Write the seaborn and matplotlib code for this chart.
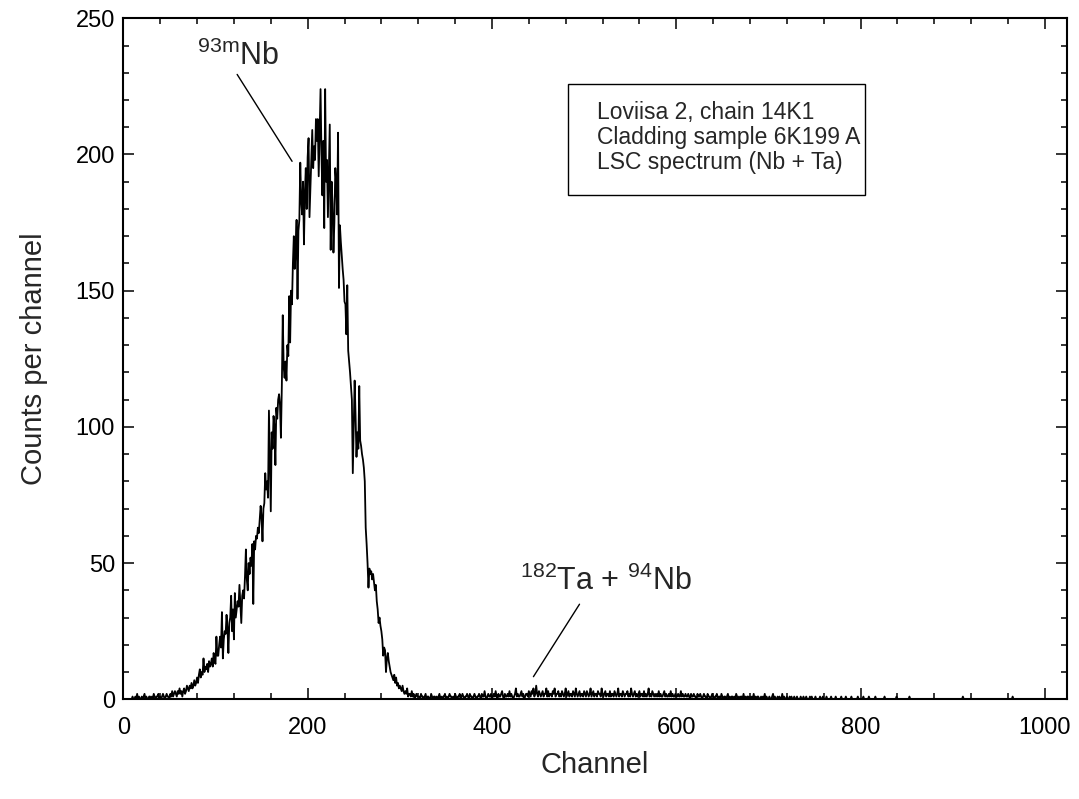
import numpy as np
import pandas as pd
import matplotlib
matplotlib.use("Agg")
import matplotlib.pyplot as plt
from matplotlib.patches import Rectangle
from matplotlib.ticker import MultipleLocator
import seaborn as sns

# ---- data: counts per channel (start channel in name) ----
counts_ch009 = [0,1,0,0,1,0,2,0,1,0,0,1,0,1,2,0,1,0,0,1,1,0]
counts_ch031 = [1,0,2,1,0,1,1,2,0,1,0,1,2,1,0,1,2,1,1,0,
                2,1,3,1,2,3,2,1,3,2,4,2,3,1,3,4,2,3,5,4,
                3,5,4,6,4,5,7,5,6,8,6,9,11,8,10,9,15,10,12,11,
                13,10,14,12,13,15,12,17,14,13,23,16,16,20,23,19,32,15,22,25,
                24,31,26,17,28,30,38,25,33,22,39,30,33,36,34,42,35,28,38,40,
                37,45,55,44,40,50,46,52,49,57,35,58,55,60,59,63,61,66,71,67]
counts_ch151 = [58,70,72,83,77,80,74,106,88,69,98,92,104,100,86,107,103,110,112,108,
                96,115,141,122,118,124,117,130,126,148,131,150,145,160,170,158,165,176,147,172,
                176,197,183,178,190,167,186,195,180,199,206,177,188,200,209,195,203,198,213,205,
                213,192,208,224,200,185,205,173,224,190,198,177,195,211,165,190,182,164,175,195,
                190,178,208,151,174,168,163,158,154,146,145,134,152,128,124,120,115,110,83,100,
                117,104,89,98,92,115,95,93,90,88,85,80,63,57,50,41,48,46,47,44,
                46,43,40,42,36,33,28,30,27,25,22,16,19,18,10,15,17,14,12,10,
                9,8,7,9,6,8,5,6,4,5,4,3,5,3,2,3,2,4,1,2,
                2,1,3,1,2,0,1,2,1,1]
counts_ch321 = [1,0,2,1,1,0,1,2,0,1,1,0,0,2,1,0,1,1,0,1,
                0,1,2,0,1,0,1,1,2,0,1,0,1,2,1,1,0,1,0,2,
                1,0,1,1,2,0,1,2,1,0,1,1,2,1,0,2,1,1,0,1,
                2,1,0,1,1,2,1,0,2,1,1,3,1,0,1,2,1,1,2,0,
                1,2,1,3,1,0,2,1,1,2,3,1,0,2,1,1,2,1,3,1,
                2,1,0,1,2,4,1,2,1,1,2,3,1,2,0,1,2,2,1,3,
                2,1,3,2,4,1,2,5,2,1,3,2,1,2,3,1,2,2,4,1,
                3,1,2,2,1,3,2,4,1,2,2,3,1,2,1,3,2,1,2,4,
                1,2,3,1,2,2,1,3,2,1,4,2,1,2,3,1,2,2,1,3,
                2,1,3,2,1,2,4,1,2,3,1,2,2,1,3,2,2,1,4,2,
                1,2,3,1,2,2,1,3,1,2,2,1,3,2,1,2,4,1,2,2,
                1,3,2,1,2,2,3,1,2,1,4,2,1,2,3,1,2,1,2,3,
                1,2,2,1,3,1,2,1,2,4,1,2,1,3,2,1,2,1,2,1,
                3,1,2,1,1,2,3,1,2,1,1,2,1,3,1,2,1,1,2,1,
                1,2,1,1,3,1,2,1,1,2,1,1,2,1,0,2,1,1,2,1,
                1,0,2,1,1,2,1,0,1,2,1,1,0,2,1,1,0,1,2,1,
                0,1,1,2,0,1,1,0,2,1,0,1,1,0,1,2,0,1,0,1]
counts_ch661 = [1,0,1,0,2,1,0,1,0,1,1,0,2,0,1,0,1,1,0,1,
                0,1,0,2,0,1,0,1,1,0,0,1,0,1,0,2,0,1,0,0,
                1,0,0,1,2,0,1,0,0,1,0,1,0,0,2,0,1,0,0,1,
                0,0,1,0,1,0,0,1,0,0,1,0,0,0,1,0,0,1,0,0,
                1,0,0,0,1,0,1,0,0,0,1,0,0,0,0,1,0,0,1,0,
                0,0,1,0,0,0,0,1,0,0,0,0,1,0,0,0,0,0,1,0,
                0,0,0,1,0,0,0,0,0,1,0,0,0,0,0,0,1,0,0,0,
                0,0,1,0,0,0,0,0,1,0,0,0,0,0,0,1,0,0,0,0,
                0,0,0,0,0,1,0,0,0,0,0,0,0,0,0,0,0,0,1,0,
                0,0,0,0,0,0,0,0,0,0,0,0,1,0,0,0,0,0,0,0,
                0,0,0,0,0,0,0,0,0,0,0,0,0,0,0,0,0,0,0,0,
                0,0,0,0,0,0,0,0,0,0,0,0,0,0,0,0,0,0,0,0,
                0,0,0,0,0,0,0,0,0,0,1,0,0,0,0,0,0,0,0,0,
                0,0,0,0,0,0,0,0,0,0,0,0,0,0,0,0,0,0,0,0,
                0,0,0,0,0,0,0,0,0,0,0,0,0,0,0,0,0,0,0,0,
                0,0,0,0,1,0,0,0,0,0,0,0,0,0,0,0,0,0,0,0,
                0,0,0,0,0,0,0,0,0,0,0,0,0,0,0,0,0,0,0,0,
                0,0,0,0,0,0,0,0,0,0,0,0,0,0,0,0,0,0,0,0,
                0,0,0]

segments = [(9, counts_ch009), (31, counts_ch031), (151, counts_ch151),
            (321, counts_ch321), (661, counts_ch661)]

box_lines = ["Loviisa 2, chain 14K1", "Cladding sample 6K199 A", "LSC spectrum (Nb + Ta)"]
x_ticks = [0, 200, 400, 600, 800, 1000]
y_ticks = [0, 50, 100, 150, 200, 250]

# ---- build frame ----
frames = []
for start, seg in segments:
    frames.append(pd.DataFrame({"Channel": np.arange(start, start + len(seg)), "Counts": seg}))
df = pd.concat(frames, ignore_index=True)

# ---- style ----
sns.set_theme(style="ticks")
plt.rcParams["font.family"] = ["Liberation Sans", "DejaVu Sans"]
plt.rcParams["mathtext.fontset"] = "custom"
plt.rcParams["mathtext.rm"] = "Liberation Sans"
plt.rcParams["mathtext.it"] = "Liberation Sans"
plt.rcParams["mathtext.default"] = "regular"

fig = plt.figure(figsize=(10.79, 7.99), dpi=100)
ax = fig.add_axes([0.1143, 0.1248, 0.8746, 0.8523])

sns.lineplot(data=df, x="Channel", y="Counts", ax=ax, color="black",
             linewidth=1.3, estimator=None, legend=False)

ax.set_xlim(0, 1024)
ax.set_ylim(0, 250)
ax.set_xticks(x_ticks)
ax.set_yticks(y_ticks)
ax.xaxis.set_minor_locator(MultipleLocator(40))
ax.yaxis.set_minor_locator(MultipleLocator(10))
ax.tick_params(which="both", direction="in", top=True, right=True, colors="black")
ax.tick_params(which="major", length=8, width=1.1, labelsize=17)
ax.tick_params(which="minor", length=4.5, width=1.1)
ax.tick_params(axis="x", which="major", pad=13)
ax.tick_params(axis="y", which="major", pad=6)
for s in ax.spines.values():
    s.set_linewidth(1.5)
    s.set_color("black")
    s.set_visible(True)

ax.set_xlabel("Channel", fontsize=21)
ax.set_ylabel("Counts per channel", fontsize=21)
ax.xaxis.set_label_coords(0.5, -0.076)
ax.yaxis.set_label_coords(-0.080, 0.5)

# annotations
ax.text(79.5, 233, r"$^{93m}$Nb", fontsize=22, ha="left", va="baseline")
ax.plot([123.5, 183.1], [229.4, 197.5], color="black", linewidth=1.0)
ax.text(430, 40, r"$^{182}$Ta + $^{94}$Nb", fontsize=22, ha="left", va="baseline")
ax.plot([495, 445], [34.9, 8.3], color="black", linewidth=1.0)

# info box
ax.add_patch(Rectangle((0.4712, 0.7405), 0.315, 0.1627, transform=ax.transAxes,
                       fill=False, edgecolor="black", linewidth=1.0))
for i, line in enumerate(box_lines):
    ax.text(0.5020, 0.852 - i * 0.0367, line, transform=ax.transAxes,
            fontsize=16.5, ha="left", va="baseline")

fig.savefig("out.png", dpi=100)
